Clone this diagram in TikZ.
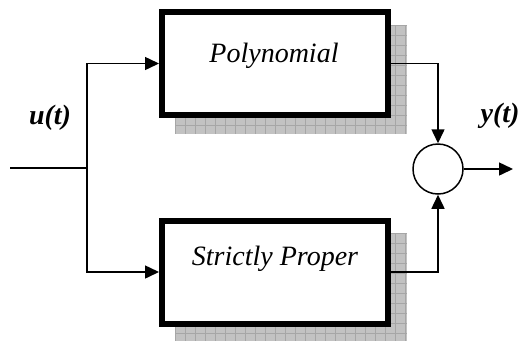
\documentclass[tikz,border=0pt]{standalone}
\usepackage{fontspec}
\setmainfont{Liberation Serif}
\usetikzlibrary{arrows.meta}
\begin{document}
\begin{tikzpicture}[x=1pt,y=-1pt,
  blk/.style={draw,line width=6pt,fill=white,minimum width=226pt,minimum height=103pt,inner sep=0pt},
  shadowfill/.style={fill=gray!48},
  gridline/.style={draw=gray!70,line width=0.4pt},
  wire/.style={line width=1.5pt},
  arr/.style={wire,-{Triangle[length=14pt,width=13pt]}},
  lbl/.style={font=\fontsize{28}{32}\selectfont\itshape},
  sig/.style={font=\fontsize{28}{32}\selectfont\bfseries\itshape}]
\useasboundingbox (0,0) rectangle (521,341);
% shadows
\fill[shadowfill] (175,25) rectangle (407,134);
\fill[shadowfill] (175,233) rectangle (407,341);
\begin{scope}
\clip (175,25) rectangle (407,134);
\foreach \x in {175,185,...,405} \draw[gridline] (\x,25) -- (\x,134);
\foreach \y in {25,35,...,134} \draw[gridline] (175,\y) -- (407,\y);
\end{scope}
\begin{scope}
\clip (175,233) rectangle (407,341);
\foreach \x in {175,185,...,405} \draw[gridline] (\x,233) -- (\x,341);
\foreach \y in {233,243,...,341} \draw[gridline] (175,\y) -- (407,\y);
\end{scope}
% blocks
\node[blk] (poly) at (275,63.5) {};
\node[blk] (sp) at (275,272) {};
\node[lbl] (polyt) at (274,56) {Polynomial};
\node[lbl] (spt) at (275,259) {Strictly Proper};
% summing junction
\node[draw,wire,circle,minimum size=50pt,inner sep=0pt] (sum) at (438,169) {};
% signals
\coordinate (in) at (10,168);
\coordinate (split) at (87,168);
\coordinate (out) at (513,169);
\draw[wire] (in) -- (split);
\draw[arr] (split) |- (poly.west);
\draw[arr] (split) |- (sp.west);
\draw[arr] (poly.east) -| (sum.north);
\draw[arr] (sp.east) -| (sum.south);
\draw[arr] (sum.east) -- (out);
\node[sig] (u) at (50,118) {u(t)};
\node[sig] (y) at (500,116) {y(t)};
\end{tikzpicture}
\end{document}
